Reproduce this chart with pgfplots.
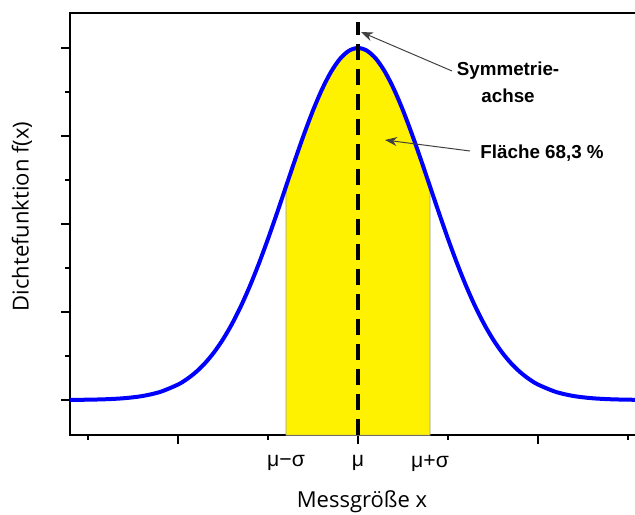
\documentclass[border=0pt]{standalone}
\usepackage{fontspec}
\setmainfont{Open Sans}
\newfontfamily\lib{Liberation Sans}
\usepackage{pgfplots}
\pgfplotsset{compat=1.18}
\usetikzlibrary{arrows.meta}
\begin{document}
\begin{tikzpicture}
\begin{axis}[
  x=45pt, y=176pt,
  xmin=-3.2, xmax=3.2, ymin=-0.1, ymax=1.1,
  axis line style={line width=1pt, black},
  tick style={line width=1pt, black},
  tick align=outside, tick pos=left,
  major tick length=4.5pt, minor tick length=2.5pt,
  xtick={-2,0,2}, minor xtick={-3,-1,1,3}, xticklabels={},
  ytick={0,0.25,0.5,0.75,1}, minor y tick num=1, yticklabels={},
  extra x ticks={-0.8,0,0.8},
  extra x tick labels={{\lib μ−σ},{\lib μ},{\lib μ+σ}},
  extra x tick style={major tick length=0pt, xticklabel style={font=\fontsize{10.6}{12}\selectfont, yshift=-6.5pt}},
  xlabel={Messgröße x},
  ylabel={Dichtefunktion f(x)},
  label style={font=\fontsize{11}{13}\selectfont},
  xlabel style={at={(axis description cs:0.507,-0.157)}, anchor=center},
  ylabel style={at={(axis description cs:-0.0833,0.518)}, anchor=center},
]
% yellow area (mu-sigma .. mu+sigma)
\addplot[fill=yellow, draw=gray!80, line width=0.4pt] coordinates {
  (-0.8,-0.1) (-0.8,0.60653) (-0.7,0.68196) (-0.6,0.75484) (-0.5,0.82258)
  (-0.4,0.88250) (-0.3,0.93210) (-0.2,0.96923) (-0.1,0.99222) (0,1)
  (0.1,0.99222) (0.2,0.96923) (0.3,0.93210) (0.4,0.88250) (0.5,0.82258)
  (0.6,0.75484) (0.7,0.68196) (0.8,0.60653) (0.8,-0.1)
} -- cycle;
% density curve
\addplot[blue, line width=2pt, smooth] coordinates {
  (-3.2,0.00034) (-3.0,0.00088) (-2.8,0.00219) (-2.6,0.00508) (-2.4,0.01111)
  (-2.2,0.02280) (-2.0,0.04394) (-1.9,0.05959) (-1.8,0.07956) (-1.7,0.10459)
  (-1.6,0.13534) (-1.5,0.17242) (-1.4,0.21627) (-1.3,0.26706) (-1.2,0.32465)
  (-1.1,0.38857) (-1.0,0.45783) (-0.9,0.53110) (-0.8,0.60653) (-0.7,0.68196)
  (-0.6,0.75484) (-0.5,0.82258) (-0.4,0.88250) (-0.3,0.93210) (-0.2,0.96923)
  (-0.1,0.99222) (0,1) (0.1,0.99222) (0.2,0.96923) (0.3,0.93210)
  (0.4,0.88250) (0.5,0.82258) (0.6,0.75484) (0.7,0.68196) (0.8,0.60653)
  (0.9,0.53110) (1.0,0.45783) (1.1,0.38857) (1.2,0.32465) (1.3,0.26706)
  (1.4,0.21627) (1.5,0.17242) (1.6,0.13534) (1.7,0.10459) (1.8,0.07956)
  (1.9,0.05959) (2.0,0.04394) (2.2,0.02280) (2.4,0.01111) (2.6,0.00508)
  (2.8,0.00219) (3.0,0.00088) (3.2,0.00034)
};
% symmetry axis
\addplot[black, line width=1.75pt, dash pattern=on 8pt off 4.5pt] coordinates {(0,-0.1) (0,1.074)};
% annotations
\node[font=\lib\bfseries\fontsize{9.4}{13.5}\selectfont, align=center] at (axis cs:1.667,0.9034) {Symmetrie-\\achse};
\node[font=\lib\bfseries\fontsize{9.4}{13.5}\selectfont, anchor=base west, inner sep=0pt] at (axis cs:1.3556,0.6847) {Fläche 68,3 \%};
\draw[black!75, line width=0.5pt, -{Stealth[length=6pt,width=4.5pt]}] (axis cs:1.0444,0.9347) -- (axis cs:0.0333,1.0455);
\draw[black!75, line width=0.5pt, -{Stealth[length=6pt,width=4.5pt]}] (axis cs:1.2444,0.7074) -- (axis cs:0.3,0.7386);
\coordinate (BL) at (axis cs:-3.97778,-0.32386);
\coordinate (TR) at (axis cs:3.07778,1.13636);
\end{axis}
\pgfresetboundingbox
\useasboundingbox (BL) rectangle (TR);
\end{tikzpicture}
\end{document}
